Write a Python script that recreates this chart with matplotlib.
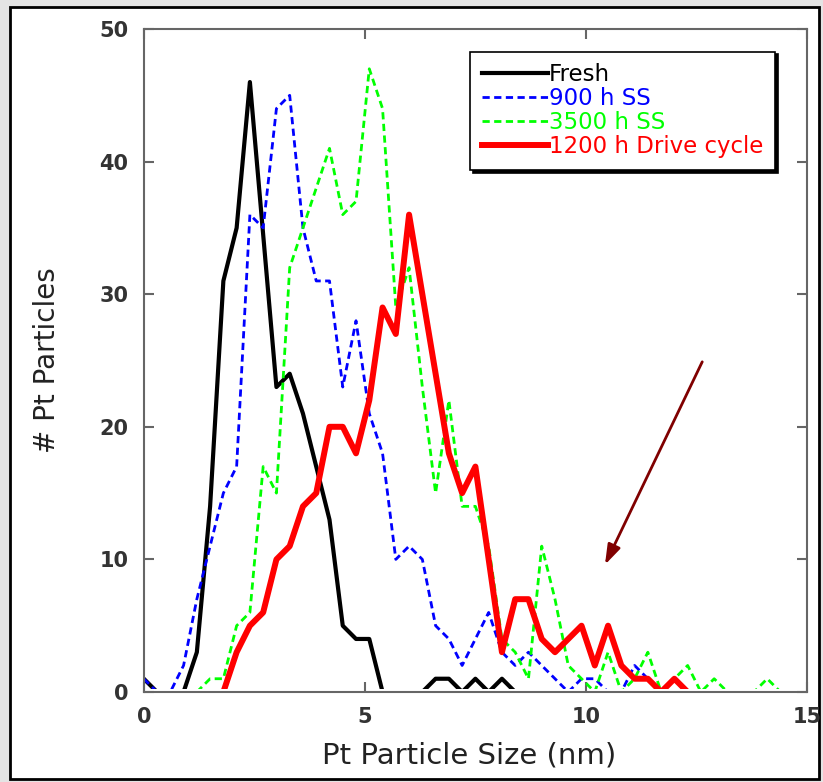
import matplotlib
matplotlib.use('Agg')
import matplotlib.pyplot as plt
from matplotlib.patches import Rectangle

# Pt particle size distributions (nm, counts)
fresh_x = [0, 0.3, 0.9, 1.2, 1.5, 1.8, 2.1, 2.4, 3.0, 3.3, 3.6, 3.9, 4.2, 4.5, 4.8, 5.1, 5.4,
           6.3, 6.6, 6.9, 7.2, 7.5, 7.8, 8.1, 8.4]
fresh_y = [1, 0, 0, 3, 14, 31, 35, 46, 23, 24, 21, 17, 13, 5, 4, 4, 0,
           0, 1, 1, 0, 1, 0, 1, 0]

ss900_x = [0, 0.3, 0.6, 0.9, 1.2, 1.5, 1.8, 2.1, 2.4, 2.7, 3.0, 3.3, 3.6, 3.9, 4.2, 4.5, 4.8,
           5.1, 5.4, 5.7, 6.0, 6.3, 6.6, 6.9, 7.2, 7.5, 7.8, 8.1, 8.4, 8.7, 9.0, 9.3, 9.6,
           9.9, 10.2, 10.5, 10.8, 11.1, 11.4]
ss900_y = [1, 0, 0, 2, 7, 11, 15, 17, 36, 35, 44, 45, 35, 31, 31, 23, 28,
           21, 18, 10, 11, 10, 5, 4, 2, 4, 6, 3, 2, 3, 2, 1, 0,
           1, 1, 0, 0, 2, 1]

ss3500_x = [1.2, 1.5, 1.8, 2.1, 2.4, 2.7, 3.0, 3.3, 3.6, 3.9, 4.2, 4.5, 4.8, 5.1, 5.4, 5.7,
            6.0, 6.3, 6.6, 6.9, 7.2, 7.5, 7.8, 8.1, 8.4, 8.7, 9.0, 9.3, 9.6, 9.9, 10.2,
            10.5, 10.8, 11.1, 11.4, 11.7, 12.0, 12.3, 12.6, 12.9, 13.2, 13.5, 13.8, 14.1, 14.4]
ss3500_y = [0, 1, 1, 5, 6, 17, 15, 32, 35, 38, 41, 36, 37, 47, 44, 29,
            32, 23, 15, 22, 14, 14, 11, 4, 3, 1, 11, 7, 2, 1, 0,
            3, 0, 1, 3, 0, 1, 2, 0, 1, 0, 0, 0, 1, 0]

drive_x = [1.8, 2.1, 2.4, 2.7, 3.0, 3.3, 3.6, 3.9, 4.2, 4.5, 4.8, 5.1, 5.4, 5.7, 6.0, 6.3,
           6.6, 6.9, 7.2, 7.5, 8.1, 8.4, 8.7, 9.0, 9.3, 9.6, 9.9, 10.2, 10.5, 10.8, 11.1,
           11.4, 11.7, 12.0, 12.3]
drive_y = [0, 3, 5, 6, 10, 11, 14, 15, 20, 20, 18, 22, 29, 27, 36, 30,
           24, 18, 15, 17, 3, 7, 7, 4, 3, 4, 5, 2, 5, 2, 1,
           1, 0, 1, 0]

plt.rcParams['font.family'] = ['DejaVu Sans']

fig = plt.figure(figsize=(8.23, 7.82), dpi=100)
fig.patch.set_facecolor('#e4e4e4')
fig.add_artist(Rectangle((10/823, 1-779/782), 809/823, 772/782, transform=fig.transFigure,
                         facecolor='white', edgecolor='black', lw=2, zorder=-1))

ax = fig.add_axes([0.1747, 0.1151, 0.8059, 0.8478])

l1, = ax.plot(fresh_x, fresh_y, color='black', lw=3.0, label='Fresh')
l2, = ax.plot(ss900_x, ss900_y, color='#0000ff', lw=2, dashes=(2.6, 1.6), label='900 h SS')
l3, = ax.plot(ss3500_x, ss3500_y, color='#00ff00', lw=2, dashes=(2.6, 1.6), label='3500 h SS')
l4, = ax.plot(drive_x, drive_y, color='#ff0000', lw=4.3, label='1200 h Drive cycle')

# hide the parts of the curves lying on the x axis
clip = Rectangle((0, 0.26), 15, 60, transform=ax.transData)
for ln in [l1, l2, l3, l4]:
    ln.set_clip_path(clip)

ax.set_xlim(0, 15)
ax.set_ylim(0, 50)
ax.set_xticks([0, 5, 10, 15])
ax.set_yticks([0, 10, 20, 30, 40, 50])
ax.tick_params(direction='in', top=True, right=True, length=7, width=1.5, color='#666666',
               labelsize=15, labelcolor='#333333', pad=11)
for t in ax.get_xticklabels() + ax.get_yticklabels():
    t.set_fontweight('bold')
for s in ax.spines.values():
    s.set_color('#666666')
    s.set_linewidth(1.5)

ax.set_xlabel('Pt Particle Size (nm)', fontsize=21, color='#222222')
ax.set_ylabel('# Pt Particles', fontsize=20, color='#222222')
ax.xaxis.set_label_coords(0.49, -0.075)
ax.yaxis.set_label_coords(-0.125, 0.5)

leg = ax.legend(loc='upper left', bbox_to_anchor=(0.492, 0.966), fontsize=16.5,
                handlelength=2.9, handletextpad=0.05, labelspacing=0.05, borderpad=0.5,
                borderaxespad=0, fancybox=False, edgecolor='black', framealpha=1,
                shadow={'color': 'black', 'alpha': 1}, labelcolor='linecolor')
leg.get_frame().set_linewidth(1.2)

ax.annotate('', xy=(10.43, 9.6), xytext=(12.63, 24.9),
            arrowprops=dict(arrowstyle='-|>,head_width=0.2,head_length=0.6',
                            color='#800000', lw=2, mutation_scale=20, shrinkA=0, shrinkB=0))

plt.savefig('out.png', dpi=100, facecolor=fig.get_facecolor())
